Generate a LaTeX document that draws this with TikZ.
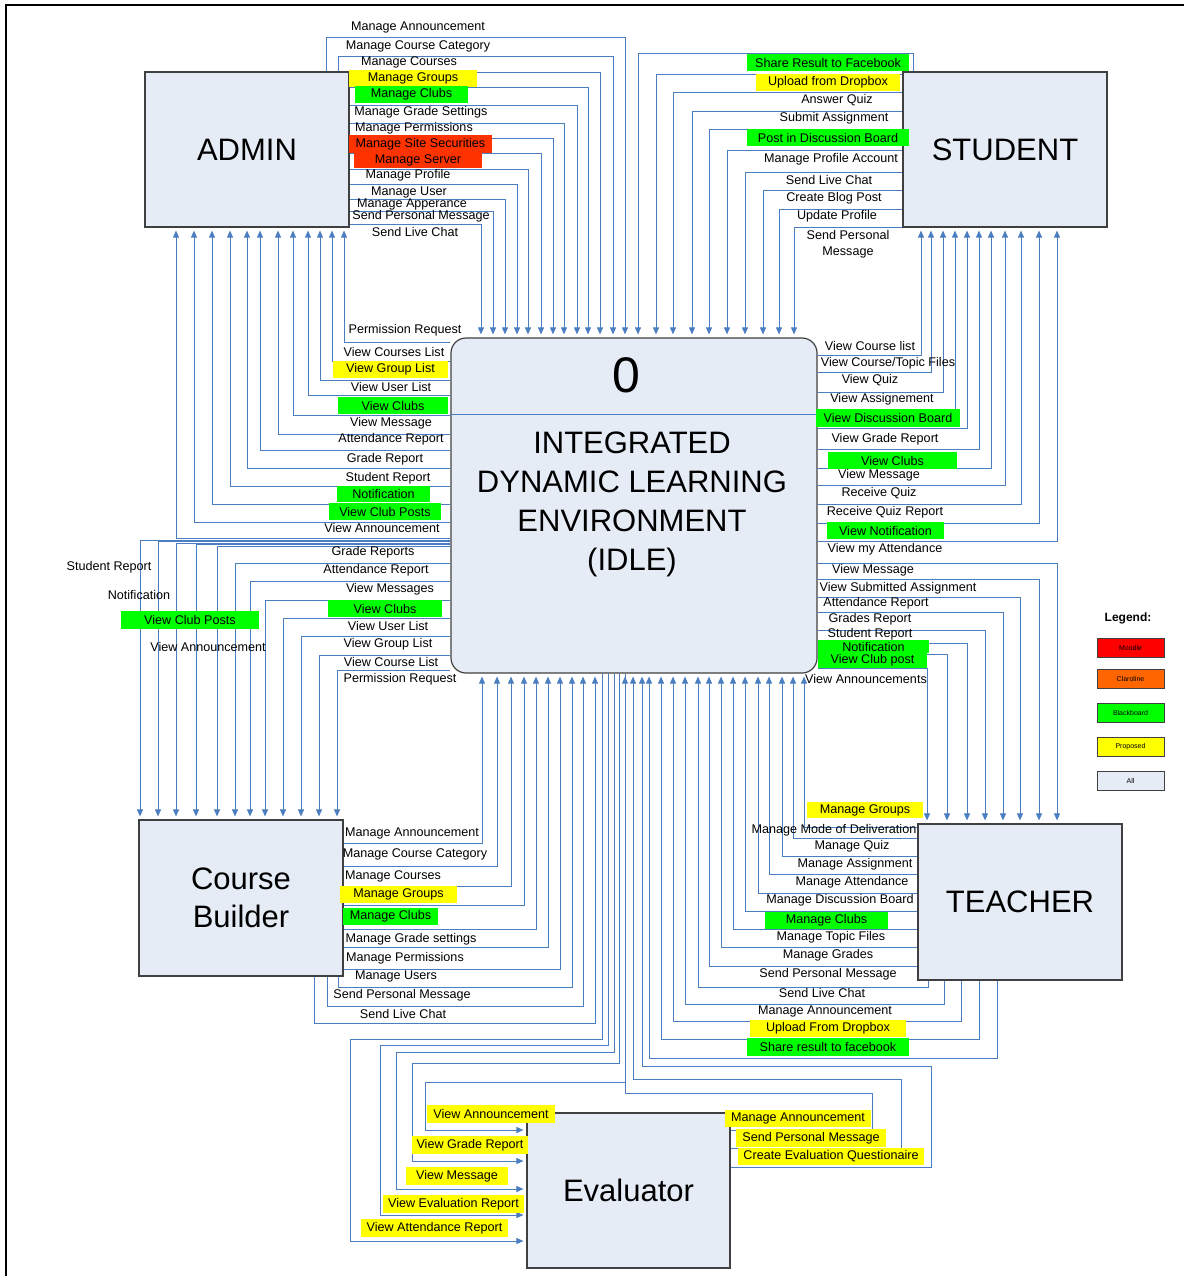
\documentclass[tikz,border=0pt]{standalone}
\usepackage{fontspec}
\setmainfont{Liberation Sans}
\usetikzlibrary{arrows.meta}
\definecolor{lineblue}{RGB}{74,126,193}
\definecolor{boxfill}{RGB}{230,236,246}
\definecolor{boxline}{RGB}{64,64,64}
\definecolor{hlgreen}{RGB}{0,255,0}
\definecolor{hlyellow}{RGB}{255,255,0}
\definecolor{hlred}{RGB}{255,51,0}
\definecolor{lgred}{RGB}{255,0,0}
\definecolor{lgorange}{RGB}{255,102,0}

\begin{document}
\begin{tikzpicture}[x=1pt,y=-1pt,
  entity/.style={draw=boxline, line width=1.2pt, fill=boxfill, inner sep=0pt,
    font=\fontsize{31}{38}\selectfont, align=center},
  flow/.style={draw=lineblue, line width=0.9pt},
  arr/.style={flow, -{Triangle[length=7pt,width=6pt]}, shorten >=3pt},
  lbl/.style={inner sep=0pt, font=\fontsize{12.6}{14}\selectfont},
  hl/.style={lbl, minimum height=17pt},
  grn/.style={hl, fill=hlgreen},
  ylw/.style={hl, fill=hlyellow},
  rd/.style={hl, fill=hlred},
  lgbox/.style={draw=boxline, line width=0.9pt, minimum width=67pt, minimum height=19pt,
    inner sep=0pt, font=\fontsize{7}{8}\selectfont}
]
\useasboundingbox (0,0) rectangle (1184,1276);
\fill[white] (0,0) rectangle (1184,1276);

% page frame
\draw[line width=1.2pt] (6,1276) -- (6,5) -- (1184,5);

% ---------- entities ----------
\node[entity, minimum width=204pt, minimum height=155pt] (admin) at (247,149.5) {ADMIN};
\node[entity, minimum width=204pt, minimum height=155pt] (student) at (1005,149.5) {STUDENT};
\node[entity, minimum width=204pt, minimum height=156pt] (cb) at (241,898) {Course\\Builder};
\node[entity, minimum width=204pt, minimum height=156pt] (teacher) at (1020,902) {TEACHER};
\node[entity, minimum width=203pt, minimum height=155pt] (eval) at (628.5,1190.5) {Evaluator};
\node[draw=boxline, line width=1.2pt, fill=boxfill, rounded corners=15pt, inner sep=0pt,
  minimum width=366pt, minimum height=335pt] (idle) at (634,505.5) {};
\draw[flow] (idle.west |- 0,414) -- (idle.east |- 0,414);
\node[inner sep=0pt, font=\fontsize{50}{60}\selectfont] (zero) at (626,375) {0};
\node[inner sep=0pt, align=center, font=\fontsize{31}{39}\selectfont] (idlename) at (632,504.5)
  {INTEGRATED\\DYNAMIC LEARNING\\ENVIRONMENT\\(IDLE)};

% ---------- ADMIN -> IDLE ----------
\draw[arr] (admin.north -| 326,0) -- (326,37) -- (625,37) -- (idle.north -| 625,0);
\draw[arr] (admin.north -| 338,0) -- (338,56) -- (613,56) -- (idle.north -| 613,0);
\foreach \y/\x in {72/600,87/588,105/577,123/564,138/553,153/541,169/528,184/517,199/505,211/493,224/481}
  \draw[arr] (admin.east |- 0,\y) -- (\x,\y) -- (idle.north -| \x,0);

% ---------- IDLE -> ADMIN ----------
\foreach \y/\x in {342/344,361/332,380/320,395/308,415/293,434/278,450/260,468/247,486/230,504/212,522/194,538/176}
  \draw[arr] (idle.west |- 0,\y) -- (\x,\y) -- (admin.south -| \x,0);

% ---------- IDLE -> Course Builder ----------
\foreach \y/\x in {540/140,541.5/158,543/176,544.5/196,546/217,563/235,581/250,600/265,618/283,636/301,655/319,670/337}
  \draw[arr] (idle.west |- 0,\y) -- (\x,\y) -- (cb.north -| \x,0);

% ---------- Course Builder -> IDLE ----------
\foreach \y/\x in {843/482,866/497,886/511,905/524,929/536,947/548,969/560}
  \draw[arr] (cb.east |- 0,\y) -- (\x,\y) -- (idle.south -| \x,0);
\foreach \s/\y/\x in {338/987/572,327/1006/583,314/1023/595}
  \draw[arr] (cb.south -| \s,0) -- (\s,\y) -- (\x,\y) -- (idle.south -| \x,0);

% ---------- IDLE -> Evaluator ----------
\foreach \s/\y/\x/\e in {602/1039/350/1241,608/1045/380/1215,614/1052/396/1189,619/1063/412/1161,625/1082/425/1130}
  \draw[arr] (idle.south -| \s,0) -- (\s,\y) -- (\x,\y) -- (\x,\e) -- (eval.west |- 0,\e);

% ---------- Evaluator -> IDLE ----------
\foreach \e/\x/\y/\s in {1130/872/1093/625,1148/901/1079/633,1167/931/1066/642}
  \draw[arr] (eval.east |- 0,\e) -- (\x,\e) -- (\x,\y) -- (\s,\y) -- (idle.south -| \s,0);

% ---------- TEACHER -> IDLE ----------
\foreach \y/\x in {827/804,838/793,856/782,874/769,893/758,911/745,929/733,947/721,966/709}
  \draw[arr] (teacher.west |- 0,\y) -- (\x,\y) -- (idle.south -| \x,0);
\foreach \s/\y/\x in {928/987/698,944/1004/685,961/1021/673,979/1039/661,997/1058/649}
  \draw[arr] (teacher.south -| \s,0) -- (\s,\y) -- (\x,\y) -- (idle.south -| \x,0);

% ---------- IDLE -> TEACHER ----------
\foreach \y/\x in {563/1057,579/1039,597/1020,612/1003,630/985,643/967,654/947,668/927}
  \draw[arr] (idle.east |- 0,\y) -- (\x,\y) -- (teacher.north -| \x,0);

% ---------- IDLE -> STUDENT ----------
\foreach \y/\x in {355/921,372/931,392/943,409/955,428/967,449/979,468/991,485/1005,504/1021,523/1039,541/1057}
  \draw[arr] (idle.east |- 0,\y) -- (\x,\y) -- (student.south -| \x,0);

% ---------- STUDENT -> IDLE ----------
\draw[arr] (student.north -| 913,0) -- (913,53) -- (638,53) -- (idle.north -| 638,0);
\foreach \y/\x in {74/656,92/673,111/692,129/709,150/727,172/745,190/763,209/779,227/794}
  \draw[arr] (student.west |- 0,\y) -- (\x,\y) -- (idle.north -| \x,0);

% ---------- labels: ADMIN -> IDLE ----------
\node[lbl] (a1) at (418,27.5) {Manage Announcement};
\node[lbl] (a2) at (418,46.5) {Manage Course Category};
\node[lbl] (a3) at (409,62.5) {Manage Courses};
\node[ylw, minimum width=128pt] (a4) at (413,78.5) {Manage Groups};
\node[grn, minimum width=113pt] (a5) at (411.5,94.5) {Manage Clubs};
\node[lbl] (a6) at (421,112.5) {Manage Grade Settings};
\node[lbl] (a7) at (414,128.5) {Manage Permissions};
\node[rd, minimum width=143pt, minimum height=18pt] (a8) at (420.5,144) {Manage Site Securities};
\node[rd, minimum width=128pt, minimum height=15pt] (a9) at (418,160.5) {Manage Server};
\node[lbl] (a10) at (408,175.5) {Manage Profile};
\node[lbl] (a11) at (409,192.5) {Manage User};
\node[lbl] (a12) at (412,204.5) {Manage Apperance};
\node[lbl] (a13) at (421,216.5) {Send Personal Message};
\node[lbl] (a14) at (415,231.5) {Send Live Chat};

% ---------- labels: STUDENT -> IDLE ----------
\node[grn, minimum width=162pt] (s1) at (828,62.5) {Share Result to Facebook};
\node[ylw, minimum width=144pt] (s2) at (828,82.5) {Upload from Dropbox};
\node[lbl] (s3) at (837,100.5) {Answer Quiz};
\node[lbl] (s4) at (834,118.5) {Submit Assignment};
\node[grn, minimum width=162pt] (s5) at (828,137.5) {Post in Discussion Board};
\node[lbl] (s6) at (831,159.5) {Manage Profile Account};
\node[lbl] (s7) at (829,179.5) {Send Live Chat};
\node[lbl] (s8) at (834,198.5) {Create Blog Post};
\node[lbl] (s9) at (837,216.5) {Update Profile};
\node[lbl, align=center, font=\fontsize{12.6}{16}\selectfont] (s10) at (848,244.5) {Send Personal\\Message};

% ---------- labels: IDLE -> ADMIN ----------
\node[lbl] (p1) at (405,330.5) {Permission Request};
\node[lbl] (p2) at (394,351.5) {View Courses List};
\node[ylw, minimum width=115pt] (p3) at (390.5,369.5) {View Group List};
\node[lbl] (p4) at (391,386.5) {View User List};
\node[grn, minimum width=110pt] (p5) at (393,405.5) {View Clubs};
\node[lbl] (p6) at (391,423.5) {View Message};
\node[lbl] (p7) at (391,439.5) {Attendance Report};
\node[lbl] (p8) at (385,459.5) {Grade Report};
\node[lbl] (p9) at (388,478.5) {Student Report};
\node[grn, minimum width=93pt, minimum height=16pt] (p10) at (383.5,494) {Notification};
\node[grn, minimum width=112pt] (p11) at (385,511.5) {View Club Posts};
\node[lbl] (p12) at (382,527.5) {View Announcement};

% ---------- labels: IDLE -> Course Builder ----------
\node[lbl] (c1) at (109,567.5) {Student Report};
\node[lbl] (c2) at (139,594.5) {Notification};
\node[grn, minimum width=138pt, minimum height=18pt] (c3) at (190,620) {View Club Posts};
\node[lbl] (c4) at (208,646.5) {View Announcement};
\node[lbl] (c5) at (373,552.5) {Grade Reports};
\node[lbl] (c6) at (376,570.5) {Attendance Report};
\node[lbl] (c7) at (390,589.5) {View Messages};
\node[grn, minimum width=114pt] (c8) at (385,608.5) {View Clubs};
\node[lbl] (c9) at (388,625.5) {View User List};
\node[lbl] (c10) at (388,644.5) {View Group List};
\node[lbl] (c11) at (391,661.5) {View Course List};
\node[lbl] (c12) at (400,679.5) {Permission Request};

% ---------- labels: Course Builder -> IDLE ----------
\node[lbl] (b1) at (412,833.5) {Manage Announcement};
\node[lbl] (b2) at (415,854.5) {Manage Course Category};
\node[lbl] (b3) at (393,876.5) {Manage Courses};
\node[ylw, minimum width=117pt] (b4) at (398.5,894.5) {Manage Groups};
\node[grn, minimum width=95pt] (b5) at (390.5,916.5) {Manage Clubs};
\node[lbl] (b6) at (411,939.5) {Manage Grade settings};
\node[lbl] (b7) at (405,958.5) {Manage Permissions};
\node[lbl] (b8) at (396,976.5) {Manage Users};
\node[lbl] (b9) at (402,995.5) {Send Personal Message};
\node[lbl] (b10) at (403,1013.5) {Send Live Chat};

% ---------- labels: TEACHER -> IDLE ----------
\node[ylw, minimum width=116pt, minimum height=16pt] (e1) at (865,810) {Manage Groups};
\node[lbl] (e2) at (834,830.5) {Manage Mode of Deliveration};
\node[lbl] (e3) at (852,846.5) {Manage Quiz};
\node[lbl] (e4) at (855,864.5) {Manage Assignment};
\node[lbl] (e5) at (852,882.5) {Manage Attendance};
\node[lbl] (e6) at (840,900.5) {Manage Discussion Board};
\node[grn, minimum width=123pt] (e7) at (826.5,920.5) {Manage Clubs};
\node[lbl] (e8) at (831,937.5) {Manage Topic Files};
\node[lbl] (e9) at (828,955.5) {Manage Grades};
\node[lbl] (e10) at (828,974.5) {Send Personal Message};
\node[lbl] (e11) at (822,992.5) {Send Live Chat};
\node[lbl] (e12) at (825,1011.5) {Manage Announcement};
\node[ylw, minimum width=156pt] (e13) at (828,1028.5) {Upload From Dropbox};
\node[grn, minimum width=162pt, minimum height=18pt] (e14) at (828,1047) {Share result to facebook};

% ---------- labels: IDLE -> TEACHER ----------
\node[lbl] (r1) at (873,570.5) {View Message};
\node[lbl] (r2) at (898,588.5) {View Submitted Assignment};
\node[lbl] (r3) at (876,603.5) {Attendance Report};
\node[lbl] (r4) at (870,619.5) {Grades Report};
\node[lbl] (r5) at (870,634.5) {Student Report};
\node[grn, minimum width=111pt, minimum height=13pt] (r6) at (873.5,646.5) {Notification};
\node[grn, minimum width=109pt, minimum height=15pt] (r7) at (872.5,660.5) {View Club post};
\node[lbl] (r8) at (866,678.5) {View Announcements};

% ---------- labels: IDLE -> STUDENT ----------
\node[lbl] (u1) at (870,345.5) {View Course list};
\node[lbl] (u2) at (888,363.5) {View Course/Topic Files};
\node[lbl] (u3) at (870,380.5) {View Quiz};
\node[lbl] (u4) at (882,399.5) {View Assignement};
\node[grn, minimum width=144pt, minimum height=18pt] (u5) at (888,418) {View Discussion Board};
\node[lbl] (u6) at (885,439.5) {View Grade Report};
\node[grn, minimum width=129pt] (u7) at (892.5,460.5) {View Clubs};
\node[lbl] (u8) at (879,475.5) {View Message};
\node[lbl] (u9) at (879,493.5) {Receive Quiz};
\node[lbl] (u10) at (885,512.5) {Receive Quiz Report};
\node[grn, minimum width=117pt] (u11) at (885.5,530.5) {View Notification};
\node[lbl] (u12) at (885,549.5) {View my Attendance};

% ---------- labels: Evaluator ----------
\node[ylw, minimum width=128pt, minimum height=18pt] (v1) at (491,1114) {View Announcement};
\node[ylw, minimum width=116pt, minimum height=18pt] (v2) at (470,1145) {View Grade Report};
\node[ylw, minimum width=102pt, minimum height=18pt] (v3) at (457,1176) {View Message};
\node[ylw, minimum width=141pt, minimum height=18pt] (v4) at (453.5,1204) {View Evaluation Report};
\node[ylw, minimum width=147pt, minimum height=18pt] (v5) at (434.5,1228) {View Attendance Report};
\node[ylw, minimum width=146pt] (w1) at (798,1118.5) {Manage Announcement};
\node[ylw, minimum width=150pt, minimum height=18pt] (w2) at (811,1138) {Send Personal Message};
\node[ylw, minimum width=186pt] (w3) at (831,1156.5) {Create Evaluation Questionaire};

% ---------- legend ----------
\node[inner sep=0pt, font=\fontsize{12}{14}\selectfont\bfseries] (lgtitle) at (1128,618.5) {Legend:};
\node[lgbox, fill=lgred] (lg1) at (1130.5,647.5) {Moodle};
\node[lgbox, fill=lgorange] (lg2) at (1130.5,679) {Claroline};
\node[lgbox, fill=hlgreen] (lg3) at (1130.5,712.5) {Blackboard};
\node[lgbox, fill=hlyellow] (lg4) at (1130.5,746.5) {Proposed};
\node[lgbox, fill=boxfill] (lg5) at (1130.5,780.5) {All};
\end{tikzpicture}
\end{document}
